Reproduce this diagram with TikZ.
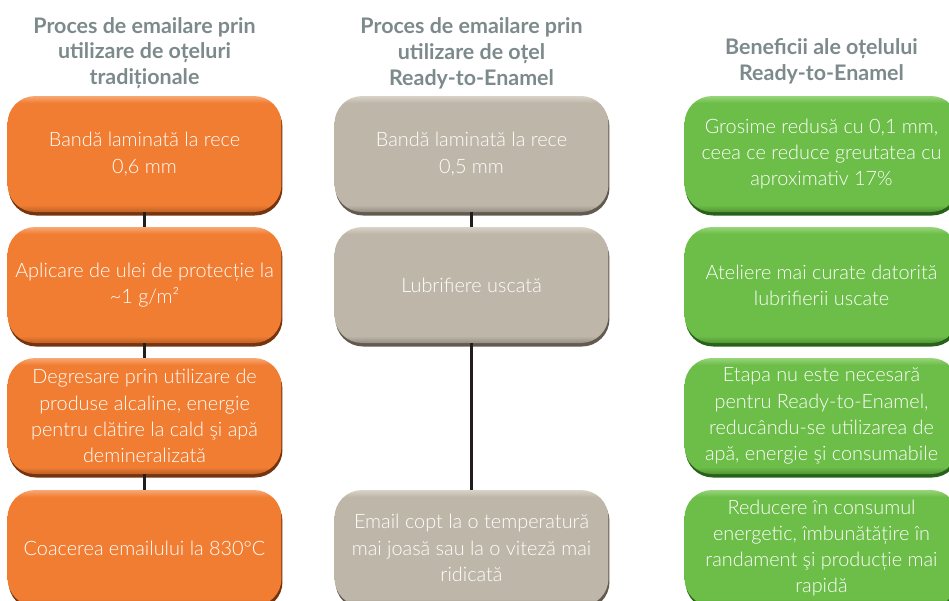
\documentclass[tikz,border=0pt]{standalone}
\usepackage{fontspec}
\setmainfont{Lato}[UprightFont=* Light, BoldFont=* Bold]
\usepackage{tikz}
\usetikzlibrary{shadows}

\definecolor{orBase}{RGB}{241,125,50}
\definecolor{orLight}{RGB}{247,168,118}
\definecolor{orDark}{RGB}{118,52,14}
\definecolor{grBase}{RGB}{190,182,168}
\definecolor{grLight}{RGB}{216,210,199}
\definecolor{grDark}{RGB}{98,90,78}
\definecolor{gnBase}{RGB}{108,190,72}
\definecolor{gnLight}{RGB}{152,212,122}
\definecolor{gnDark}{RGB}{38,98,24}
\definecolor{titlegray}{RGB}{125,138,139}
\definecolor{linkcol}{RGB}{35,30,30}

\pgfdeclareverticalshading{orbevel}{100bp}{color(0bp)=(orBase!78!black); color(25bp)=(orBase!78!black); color(28bp)=(orBase); color(72bp)=(orBase); color(75bp)=(orLight); color(100bp)=(orLight)}
\pgfdeclareverticalshading{grbevel}{100bp}{color(0bp)=(grBase!78!black); color(25bp)=(grBase!78!black); color(28bp)=(grBase); color(72bp)=(grBase); color(75bp)=(grLight); color(100bp)=(grLight)}
\pgfdeclareverticalshading{gnbevel}{100bp}{color(0bp)=(gnBase!78!black); color(25bp)=(gnBase!78!black); color(28bp)=(gnBase); color(72bp)=(gnBase); color(75bp)=(gnLight); color(100bp)=(gnLight)}

\tikzset{
  stepbox/.style={rounded corners=0.55cm, minimum width=5.48cm, minimum height=2.32cm,
    inner sep=0pt, align=center, text=white, font=\fontsize{11.3}{14.9}\selectfont},
  orbox/.style={stepbox, shading=orbevel,
    drop shadow={shadow xshift=0.02cm, shadow yshift=-0.07cm, fill=orDark, opacity=1}},
  grbox/.style={stepbox, shading=grbevel,
    drop shadow={shadow xshift=0.02cm, shadow yshift=-0.07cm, fill=grDark, opacity=1}},
  gnbox/.style={stepbox, shading=gnbevel,
    drop shadow={shadow xshift=0.02cm, shadow yshift=-0.07cm, fill=gnDark, opacity=1}},
  proctitle/.style={text=titlegray, align=center, font=\bfseries\fontsize{12.2}{14.7}\selectfont},
  link/.style={draw=linkcol, line width=1.2pt}
}

\begin{document}
\begin{tikzpicture}[x=0.02cm, y=-0.02cm]
            \useasboundingbox (0, 0) rectangle (949, 600);
            % titles
            \draw (144.5, 53) node[proctitle](t1){Proces de emailare prin\\utilizare de oțeluri\\tradiționale};
            \draw (471.5, 53) node[proctitle](t2){Proces de emailare prin\\utilizare de oțel\\Ready-to-Enamel};
            \draw (821.5, 61) node[proctitle](t3){Beneficii ale oțelului\\Ready-to-Enamel};
            % traditional steel
            \draw (144.5, 154) node[orbox](o1){Bandă laminată la rece\\0,6 mm};
            \draw (144.5, 285) node[orbox](o2){Aplicare de ulei de protecție la\\\textasciitilde1 g/m²};
            \draw[link] (o1) -- (o2);
            \draw (144.5, 416) node[orbox](o3){Degresare prin utilizare de\\produse alcaline, energie\\pentru clătire la cald şi apă\\demineralizată};
            \draw[link] (o2) -- (o3);
            \draw (144.5, 548) node[orbox](o4){Coacerea emailului la 830°C};
            \draw[link] (o3) -- (o4);
            % ready-to-enamel steel
            \draw (471.5, 154) node[grbox](g1){Bandă laminată la rece\\0,5 mm};
            \draw (471.5, 285) node[grbox](g2){Lubrifiere uscată};
            \draw[link] (g1) -- (g2);
            \draw (471.5, 548) node[grbox](g4){Email copt la o temperatură\\mai joasă sau la o viteză mai\\ridicată};
            \draw[link] (g2) -- (g4);
            % benefits
            \draw (821.5, 154) node[gnbox](v1){Grosime redusă cu 0,1 mm,\\ceea ce reduce greutatea cu\\aproximativ 17\%};
            \draw (821.5, 285) node[gnbox](v2){Ateliere mai curate datorită\\lubrifierii uscate};
            \draw (821.5, 416) node[gnbox](v3){Etapa nu este necesară\\pentru Ready-to-Enamel,\\reducându-se utilizarea de\\apă, energie şi consumabile};
            \draw (821.5, 548) node[gnbox](v4){Reducere în consumul\\energetic, îmbunătățire în\\randament şi producție mai\\rapidă};
        \end{tikzpicture}
\end{document}
